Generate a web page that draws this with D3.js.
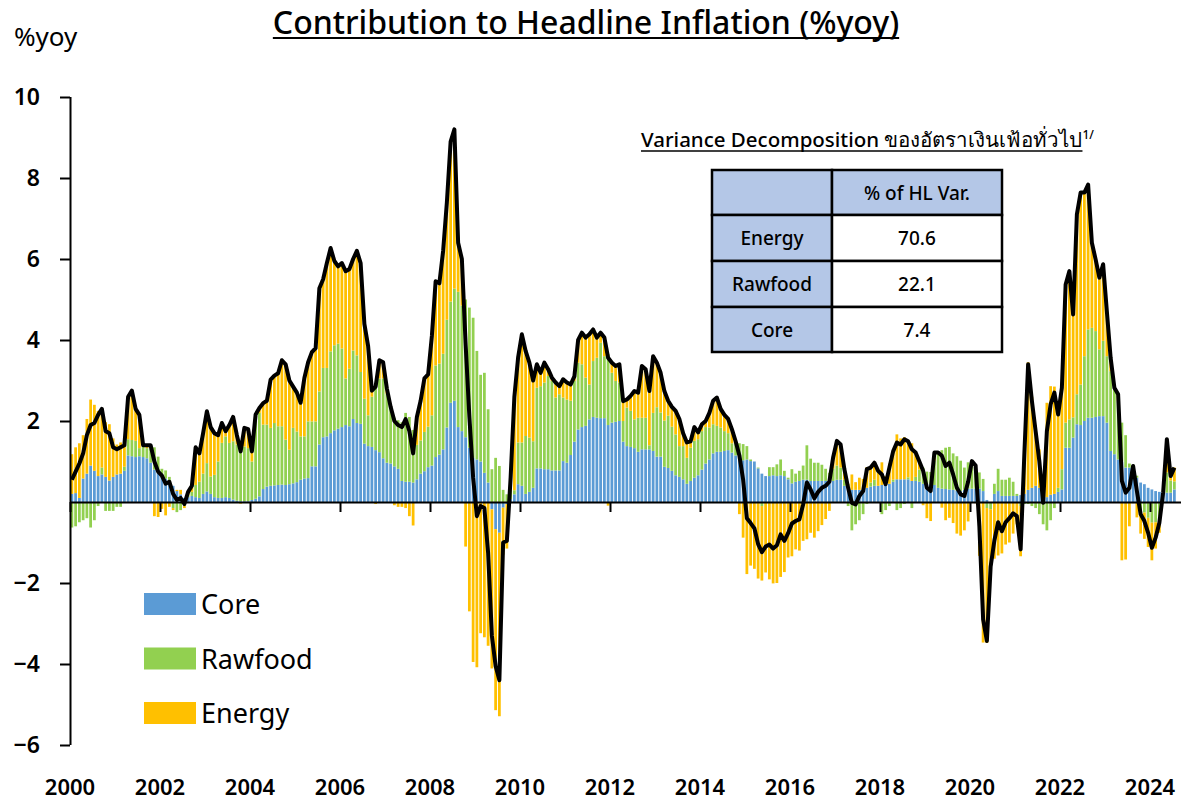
<!DOCTYPE html>
<html lang="en">
<head>
<meta charset="UTF-8">
<title>Contribution to Headline Inflation (%yoy)</title>
<script src="https://d3js.org/d3.v7.min.js"></script>
<style>
  body { margin: 0; background: #fff; }
  svg text { font-family: "Noto Sans", "DejaVu Sans", sans-serif; fill: #000; }
</style>
</head>
<body>
<svg id="chart" width="1184" height="802"></svg>
<script>
// monthly contributions, Jan 2000 - Jul 2024 (one line per year)
var core = [
  0.2,0.22,0.1,0.58,0.7,0.9,0.77,0.64,0.68,0.62,0.53,0.62,
  0.68,0.7,0.77,1.15,1.13,1.11,1.13,1.11,1.08,0.97,0.8,0.72,
  0.67,0.58,0.52,0.4,0.27,0.19,0.1,0.12,0.15,0.12,0.1,0.2,
  0.26,0.2,0.12,0.1,0.1,0.12,0.1,0.06,0.03,0.02,0.02,0.02,
  0.05,0.08,0.14,0.32,0.38,0.4,0.41,0.42,0.43,0.42,0.44,0.46,
  0.49,0.55,0.58,0.59,0.88,0.88,1.42,1.6,1.62,1.7,1.77,1.81,
  1.85,1.9,1.87,2.05,1.95,1.93,1.44,1.38,1.36,1.28,1.23,1.08,
  0.97,0.95,0.88,0.82,0.52,0.5,0.5,0.48,0.56,0.7,0.76,0.86,
  0.9,1.11,1.17,1.3,1.84,2.45,2.5,1.85,1.75,1.6,1.34,1.09,
  1.05,1.0,0.72,0.48,-0.18,-0.67,-0.76,-0.14,-0.05,0.07,0.19,0.44,
  0.4,0.2,0.25,0.35,0.83,0.83,0.81,0.81,0.78,0.78,0.78,1.01,
  0.97,1.16,1.49,1.79,1.85,1.88,2.04,2.1,2.08,2.07,2.07,1.9,
  1.96,1.98,2.0,1.49,1.38,1.36,1.33,1.24,1.3,1.3,1.3,1.26,
  1.12,1.12,0.87,0.84,0.77,0.66,0.62,0.56,0.45,0.52,0.6,0.66,
  0.8,0.95,1.05,1.2,1.24,1.24,1.26,1.28,1.22,1.15,1.1,1.03,
  1.05,1.01,1.0,0.83,0.7,0.64,0.64,0.66,0.64,0.66,0.64,0.56,
  0.46,0.5,0.52,0.55,0.55,0.52,0.52,0.52,0.52,0.52,0.52,0.52,
  0.55,0.55,0.4,0.35,0.3,0.3,0.3,0.3,0.35,0.38,0.4,0.4,
  0.42,0.42,0.45,0.5,0.56,0.56,0.56,0.56,0.52,0.52,0.5,0.45,
  0.45,0.44,0.42,0.35,0.33,0.32,0.31,0.3,0.28,0.27,0.3,0.33,
  0.33,0.33,0.33,0.27,0.05,0.0,0.2,0.27,0.15,0.15,0.15,0.15,
  0.15,0.17,0.2,0.3,0.35,0.4,0.35,0.12,0.12,0.18,0.2,0.25,
  0.31,1.34,1.34,1.59,1.92,1.9,2.0,2.08,2.08,2.1,2.12,2.12,
  1.96,1.26,1.18,1.05,1.0,0.85,0.85,0.72,0.6,0.48,0.44,0.35,
  0.31,0.27,0.25,0.23,0.23,0.23,0.31
];
var rawfood = [
  -0.63,-0.6,-0.5,-0.45,-0.4,-0.63,-0.45,-0.1,0.17,-0.22,-0.22,-0.22,
  -0.12,-0.12,0.1,0.4,0.4,0.4,0.2,0.25,0.25,0.35,0.55,0.4,
  0.15,0.2,0.1,-0.15,-0.25,-0.2,-0.1,0.05,0.1,0.3,0.4,0.5,
  0.7,0.43,0.55,0.9,1.36,1.5,1.36,1.44,1.39,1.27,1.35,1.31,
  0.95,1.95,2.06,1.59,1.53,1.43,1.54,1.45,1.44,1.12,0.85,1.37,
  1.25,1.07,1.04,1.4,1.11,1.11,1.31,1.71,1.69,2.02,2.1,2.1,
  1.94,1.15,1.42,1.69,1.67,1.28,1.11,0.76,1.24,1.62,1.82,1.97,
  1.7,1.35,1.2,1.2,1.45,1.7,1.6,1.3,0.85,0.82,0.97,1.0,
  1.24,2.26,2.25,2.36,2.66,2.5,2.77,3.34,3.1,3.4,3.46,3.46,
  2.68,2.14,2.47,1.81,0.81,1.09,0.89,0.3,0.19,0.2,0.1,1.03,
  1.07,1.43,1.34,1.15,1.99,2.03,2.14,2.3,2.21,1.8,1.88,1.57,
  1.56,1.34,1.5,1.65,1.55,1.19,0.86,1.38,1.48,1.86,1.53,1.75,
  1.23,1.01,0.95,0.51,0.95,0.89,0.71,0.84,0.78,0.78,0.1,0.94,
  1.22,1.09,1.14,1.29,1.09,1.01,0.76,0.82,0.64,0.82,0.91,0.89,
  0.95,0.9,0.79,0.72,0.64,0.6,0.49,0.42,0.23,0.3,0.35,0.4,
  0.33,0.04,0.0,0.02,-0.1,0.0,0.22,0.2,0.29,0.39,0.13,0.04,
  0.35,0.2,0.25,0.35,0.85,0.55,0.45,0.45,0.4,0.3,0.2,0.3,
  0.35,0.3,0.15,-0.1,-0.7,-0.55,-0.45,-0.3,-0.05,0.1,0.15,0.0,
  -0.3,-0.2,-0.1,0.05,-0.2,-0.15,-0.05,0.05,-0.15,0.1,0.3,0.4,
  0.3,0.3,0.6,0.85,0.95,1.02,1.05,0.9,0.85,0.75,0.55,0.65,
  0.7,0.6,0.4,0.3,-0.15,-0.18,0.25,0.55,0.4,0.4,0.45,0.35,
  0.05,-0.1,-0.05,-0.05,-0.1,-0.15,-0.3,-0.55,-0.7,-0.45,-0.15,0.1,
  0.5,0.62,0.7,0.5,0.74,1.0,1.6,2.18,2.22,2.12,1.65,1.86,
  1.64,1.97,1.64,1.44,0.96,0.8,0.1,0.2,0.05,-0.22,-0.26,-0.39,
  -0.51,-0.5,-0.35,0.0,0.5,0.3,0.2
];
var energy = [
  0.98,1.13,1.35,1.07,1.35,1.63,1.63,1.61,1.45,1.35,1.39,0.95,
  0.74,0.77,0.53,1.05,1.22,0.79,0.82,0.04,0.07,0.08,-0.35,-0.37,
  -0.17,-0.33,-0.12,-0.05,0.03,0.11,-0.05,0.08,0.15,0.93,0.7,1.0,
  1.28,1.22,1.03,0.65,0.49,0.13,0.44,0.6,0.23,-0.04,0.46,0.47,
  0.25,0.13,0.12,0.53,0.59,1.19,1.17,1.31,1.63,1.86,1.71,1.02,
  0.96,0.83,1.44,1.46,1.71,1.81,2.55,2.19,2.59,2.55,2.08,1.91,
  2.11,2.65,2.46,2.26,2.58,2.69,1.85,1.71,0.15,-0.05,0.45,0.4,
  0.13,0.05,-0.08,-0.12,-0.12,-0.15,-0.35,-0.58,0.69,0.98,1.32,1.29,
  1.96,2.08,1.98,2.54,2.9,3.95,3.93,1.21,1.15,-1.1,-2.7,-3.95,
  -4.08,-3.24,-3.34,-3.55,-3.93,-4.47,-4.53,-1.16,-1.1,0.33,2.31,2.1,
  2.67,2.1,1.85,1.5,0.58,0.33,0.49,0.17,0.08,0.37,0.2,0.45,
  0.42,0.4,0.11,0.56,0.78,0.99,1.24,0.78,0.5,0.25,0.46,-0.09,
  0.25,0.37,0.45,0.49,0.2,0.37,0.7,0.62,1.28,1.2,1.34,1.4,
  1.1,0.98,0.73,0.37,0.49,0.58,0.67,0.32,0.38,0.16,0.34,0.17,
  0.17,0.15,0.36,0.58,0.7,0.46,0.4,0.35,0.35,0.05,-0.3,-0.88,
  -1.78,-1.57,-1.65,-1.89,-1.84,-1.74,-1.91,-2.01,-2.0,-1.85,-1.73,-1.37,
  -1.34,-1.17,-1.2,-0.96,-0.92,-0.76,-0.88,-0.72,-0.57,-0.42,-0.22,0.28,
  0.61,0.57,0.26,0.1,0.38,0.19,0.3,0.27,0.51,0.37,0.42,0.37,
  0.56,0.22,0.5,0.7,1.11,1.01,1.04,0.89,0.93,0.6,0.2,-0.08,
  -0.4,-0.47,0.2,0.02,-0.14,-0.45,-0.39,-0.52,-0.78,-0.83,-0.7,-0.48,
  -0.02,-0.03,-1.33,-3.47,-3.33,-1.42,-1.4,-1.32,-1.27,-1.05,-1.0,-0.78,
  -0.55,-1.24,1.05,3.15,2.25,1.5,0.95,0.41,2.33,2.68,2.65,1.81,
  2.01,3.41,3.66,2.54,4.44,4.74,4.04,3.58,2.1,1.77,1.77,1.89,
  1.1,0.33,0.0,0.17,-1.44,-1.42,-0.6,-0.03,-0.38,-0.56,-0.65,-0.72,
  -0.93,-0.65,-0.41,0.0,0.82,0.11,0.34
];
var headline = [
  0.55,0.75,0.95,1.2,1.65,1.9,1.95,2.15,2.3,1.75,1.7,1.35,
  1.3,1.35,1.4,2.6,2.75,2.3,2.15,1.4,1.4,1.4,1.0,0.75,
  0.65,0.45,0.5,0.2,0.05,0.1,-0.05,0.25,0.4,1.35,1.2,1.7,
  2.24,1.85,1.7,1.65,1.95,1.75,1.9,2.1,1.65,1.25,1.83,1.8,
  1.25,2.16,2.32,2.44,2.5,3.02,3.12,3.18,3.5,3.4,3.0,2.85,
  2.7,2.45,3.06,3.45,3.7,3.8,5.28,5.5,5.9,6.27,5.95,5.82,
  5.9,5.7,5.75,6.0,6.2,5.9,4.4,3.85,2.75,2.85,3.5,3.45,
  2.8,2.35,2.0,1.9,1.85,2.05,1.75,1.2,2.1,2.5,3.05,3.15,
  4.1,5.45,5.4,6.2,7.4,8.9,9.2,6.4,6.0,3.9,2.1,0.6,
  -0.35,-0.1,-0.15,-1.26,-3.3,-4.05,-4.4,-1.0,-0.96,0.6,2.6,3.57,
  4.14,3.73,3.44,3.0,3.4,3.19,3.44,3.28,3.07,2.95,2.86,3.03,
  2.95,2.9,3.1,4.0,4.18,4.06,4.14,4.26,4.06,4.18,4.06,3.56,
  3.44,3.36,3.4,2.49,2.53,2.62,2.74,2.7,3.36,3.28,2.74,3.6,
  3.44,3.19,2.74,2.5,2.35,2.25,2.05,1.7,1.47,1.5,1.85,1.72,
  1.92,2.0,2.2,2.5,2.58,2.3,2.15,2.05,1.8,1.5,1.15,0.55,
  -0.4,-0.52,-0.65,-1.04,-1.24,-1.1,-1.05,-1.15,-1.07,-0.8,-0.96,-0.77,
  -0.53,-0.47,-0.43,-0.06,0.48,0.31,0.09,0.25,0.35,0.4,0.5,1.1,
  1.51,1.42,0.81,0.35,-0.02,-0.06,0.15,0.27,0.81,0.85,0.97,0.77,
  0.68,0.44,0.85,1.25,1.47,1.42,1.55,1.5,1.3,1.22,1.0,0.77,
  0.35,0.27,1.22,1.22,1.14,0.89,0.97,0.68,0.35,0.19,0.15,0.5,
  1.01,0.9,-0.6,-2.9,-3.43,-1.6,-0.95,-0.5,-0.72,-0.5,-0.4,-0.28,
  -0.35,-1.17,1.2,3.4,2.5,1.75,1.0,-0.02,1.75,2.41,2.7,2.16,
  2.82,5.37,5.7,4.63,7.1,7.64,7.64,7.84,6.4,5.99,5.54,5.87,
  4.7,3.56,2.82,2.66,0.52,0.23,0.35,0.89,0.27,-0.3,-0.47,-0.76,
  -1.13,-0.88,-0.51,0.23,1.55,0.64,0.85
];
var tickYears = [2000, 2002, 2004, 2006, 2008, 2010, 2012, 2014, 2016, 2018, 2020, 2022, 2024];
var yTicks = [-6, -4, -2, 2, 4, 6, 8, 10];
var seriesKeys = ["core", "rawfood", "energy"];
var seriesNames = ["Core", "Rawfood", "Energy"];
var seriesColors = ["#5B9BD5", "#92D050", "#FFC000"];
var tableHeader = ["", "% of HL Var."];
var tableRows = [["Energy", "70.6"], ["Rawfood", "22.1"], ["Core", "7.4"]];

var svg = d3.select("#chart");
var n = headline.length;
var months = d3.timeMonth.range(new Date(2000, 0, 1), new Date(2000, n, 1));

var rows = months.map(function(m, i) {
  return { month: m, i: i, core: core[i], rawfood: rawfood[i], energy: energy[i], headline: headline[i] };
});

var left = 70, step = 3.75;
var x = d3.scaleBand().domain(d3.range(n)).range([left, left + step * n]).paddingInner(0.26).paddingOuter(0.13);
var xm = d3.scaleLinear().domain([0, n]).range([left, left + step * n]);
var y = d3.scaleLinear().domain([-6, 10]).range([745, 97]);

var stack = d3.stack().keys(seriesKeys).offset(d3.stackOffsetDiverging);
var layers = stack(rows);

svg.append("g").selectAll("g")
  .data(layers)
  .join("g")
  .attr("fill", function(d, k) { return seriesColors[k]; })
  .selectAll("rect")
  .data(function(d) { return d; })
  .join("rect")
  .attr("x", function(d) { return x(d.data.i); })
  .attr("width", x.bandwidth())
  .attr("y", function(d) { return y(Math.max(d[0], d[1])); })
  .attr("height", function(d) { return Math.abs(y(d[0]) - y(d[1])); });

// y axis
var yAxis = d3.axisLeft(y).tickValues(yTicks).tickSize(10).tickPadding(20)
  .tickFormat(d3.format("d"));
var gy = svg.append("g").attr("transform", "translate(" + left + ",0)").call(yAxis);
gy.select(".domain").attr("stroke-width", 2).attr("d", "M0.5,97V745");
gy.selectAll(".tick line").attr("stroke-width", 2);
gy.selectAll("text").style("font-size", "23px").style("font-weight", 600).style("fill", "#000");

// zero line and year ticks
var xAxis = d3.axisBottom(xm).tickValues(tickYears.map(function(t) { return (t - 2000) * 12; }))
  .tickSize(10).tickFormat("");
var gx = svg.append("g").attr("transform", "translate(0," + y(0) + ")").call(xAxis);
gx.select(".domain").attr("stroke-width", 2).attr("d", "M" + left + ",0.5H1181");
gx.selectAll(".tick line").attr("stroke-width", 2);

svg.append("g").selectAll("text")
  .data(tickYears)
  .join("text")
  .attr("x", function(t) { return xm((t - 2000) * 12); })
  .attr("y", 795)
  .attr("text-anchor", "middle")
  .style("font-size", "22px")
  .style("font-weight", 600)
  .text(function(t) { return t; });

// headline line
var line = d3.line()
  .x(function(d) { return x(d.i) + x.bandwidth() / 2; })
  .y(function(d) { return y(d.headline); });
svg.append("path")
  .datum(rows)
  .attr("fill", "none")
  .attr("stroke", "#000")
  .attr("stroke-width", 4)
  .attr("stroke-linejoin", "round")
  .attr("d", line);

// titles
var title = svg.append("text")
  .attr("x", 586).attr("y", 34)
  .attr("text-anchor", "middle")
  .style("font-size", "32px").style("font-weight", 500)
  .text("Contribution to Headline Inflation (%yoy)");
var tw = title.node().getComputedTextLength();
svg.append("line").attr("x1", 586 - tw / 2).attr("x2", 586 + tw / 2)
  .attr("y1", 38).attr("y2", 38).attr("stroke", "#000").attr("stroke-width", 2);

svg.append("text").attr("x", 14).attr("y", 46)
  .style("font-size", "26px")
  .text("%yoy");

// legend
var legend = svg.append("g").selectAll("g")
  .data(seriesNames)
  .join("g")
  .attr("transform", function(d, k) { return "translate(144," + (593 + k * 54.5) + ")"; });
legend.append("rect").attr("width", 52).attr("height", 22)
  .attr("fill", function(d, k) { return seriesColors[k]; });
legend.append("text").attr("x", 57).attr("y", 21)
  .style("font-size", "27px")
  .text(function(d) { return d; });

// variance decomposition table
var tTitle = svg.append("text").attr("x", 641).attr("y", 147)
  .style("font-size", "20.5px").style("font-weight", 500);
tTitle.append("tspan").text("Variance Decomposition ของอัตราเงินเฟ้อทั่วไป");
var ttw = tTitle.node().getComputedTextLength();
tTitle.append("tspan").attr("dy", -8).style("font-size", "12px").text("1/");
svg.append("line").attr("x1", 641).attr("x2", 641 + ttw)
  .attr("y1", 151).attr("y2", 151).attr("stroke", "#000").attr("stroke-width", 1.5);

var colX = [712, 832, 1002];
var rowY = [170, 215, 261, 307, 352];
var cells = [tableHeader].concat(tableRows);
var tg = svg.append("g");
cells.forEach(function(r, ri) {
  r.forEach(function(txt, ci) {
    var fill = (ri === 0 || ci === 0) ? "#B4C7E7" : "#fff";
    tg.append("rect")
      .attr("x", colX[ci]).attr("y", rowY[ri])
      .attr("width", colX[ci + 1] - colX[ci]).attr("height", rowY[ri + 1] - rowY[ri])
      .attr("fill", fill).attr("stroke", "#000").attr("stroke-width", 2.5);
    tg.append("text")
      .attr("x", (colX[ci] + colX[ci + 1]) / 2)
      .attr("y", (rowY[ri] + rowY[ri + 1]) / 2 + 7)
      .attr("text-anchor", "middle")
      .style("font-size", "19px").style("font-weight", 500)
      .text(txt);
  });
});
</script>
</body>
</html>
